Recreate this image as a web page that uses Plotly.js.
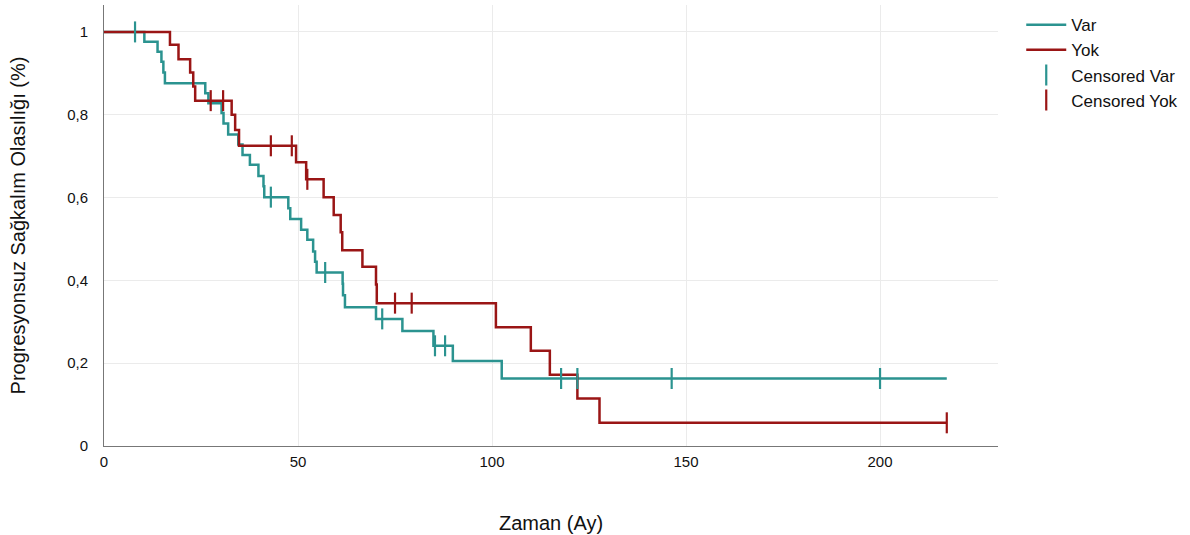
<!DOCTYPE html>
<html>
<head>
<meta charset="utf-8">
<script src="https://cdn.plot.ly/plotly-3.0.1.min.js"></script>
<style>html,body{margin:0;padding:0;background:#fff;}#chart{width:1190px;height:535px;}</style>
</head>
<body>
<div id="chart"></div>
<script>
// Kaplan–Meier step data (time in months, survival probability)
const varTimes = [0, 10.4, 13.8, 14.8, 15.3, 15.7, 26.1, 26.9, 30.3, 30.8, 32.0, 34.6, 35.7, 37.6, 39.8, 41.1, 41.3, 47.5, 48.0, 50.8, 52.4, 53.9, 54.4, 54.8, 61.5, 61.6, 62.1, 70.1, 76.9, 84.9, 89.9, 102.5, 217.2];
const varSurv  = [1, 0.976, 0.952, 0.928, 0.902, 0.876, 0.852, 0.828, 0.804, 0.779, 0.752, 0.728, 0.703, 0.679, 0.652, 0.627, 0.601, 0.574, 0.548, 0.522, 0.498, 0.470, 0.445, 0.419, 0.392, 0.364, 0.335, 0.307, 0.278, 0.242, 0.205, 0.163, 0.163];
const varCensor = [8.0, 43.0, 57.0, 71.7, 85.3, 87.9, 117.8, 122.0, 146.3, 200.0];

const yokTimes = [0, 17.0, 19.2, 22.2, 23.0, 23.5, 32.9, 33.8, 34.8, 49.5, 52.1, 56.6, 59.2, 61.0, 61.4, 66.6, 70.1, 70.3, 101.0, 110.0, 114.9, 122.0, 127.7, 217.2];
const yokSurv  = [1, 0.969, 0.934, 0.902, 0.868, 0.834, 0.800, 0.763, 0.725, 0.685, 0.644, 0.601, 0.558, 0.516, 0.473, 0.433, 0.390, 0.345, 0.287, 0.230, 0.172, 0.115, 0.056, 0.056];
const yokCensor = [27.5, 30.7, 43.0, 48.4, 52.4, 75.0, 79.3, 217.2];

const xTicks = [0, 50, 100, 150, 200];
const yTicks = [0, 0.2, 0.4, 0.6, 0.8, 1];
const yTickText = ['0', '0,2', '0,4', '0,6', '0,8', '1'];

const tealColor = '#2b9390';
const redColor = '#9a1515';

function survAt(times, surv, t) {
  let s = surv[0];
  for (let i = 0; i < times.length; i++) {
    if (times[i] <= t) s = surv[i]; else break;
  }
  return s;
}

const traces = [
  {x: varTimes, y: varSurv, mode: 'lines', name: 'Var', line: {shape: 'hv', color: tealColor, width: 2.5}},
  {x: yokTimes, y: yokSurv, mode: 'lines', name: 'Yok', line: {shape: 'hv', color: redColor, width: 2.5}},
  {x: varCensor, y: varCensor.map(t => survAt(varTimes, varSurv, t)), mode: 'markers', name: 'Censored Var',
   marker: {symbol: 'line-ns-open', size: 15, color: tealColor, line: {color: tealColor, width: 2.2}}},
  {x: yokCensor, y: yokCensor.map(t => survAt(yokTimes, yokSurv, t)), mode: 'markers', name: 'Censored Yok',
   marker: {symbol: 'line-ns-open', size: 15, color: redColor, line: {color: redColor, width: 2.2}}}
];

const layout = {
  width: 1190, height: 535,
  margin: {l: 104, r: 192, t: 5, b: 89},
  paper_bgcolor: '#fff', plot_bgcolor: '#fff',
  font: {family: 'Liberation Sans, Arial, sans-serif', size: 14, color: '#111'},
  showlegend: true,
  legend: {x: 1.026, y: 0.995, xanchor: 'left', yanchor: 'top', font: {size: 17, color: '#111'}, tracegroupgap: 0, itemwidth: 40},
  xaxis: {
    range: [0, 230.4], tickvals: xTicks, ticktext: xTicks.map(String),
    showgrid: true, gridcolor: '#ebebeb', gridwidth: 1, zeroline: false,
    showline: true, linecolor: '#777', linewidth: 1, ticks: '',
    tickfont: {size: 15, color: '#111'}, ticklabelstandoff: 2,
    title: {text: 'Zaman (Ay)', font: {size: 20, color: '#111'}, standoff: 46}
  },
  yaxis: {
    range: [0, 1.065], tickvals: yTicks, ticktext: yTickText,
    showgrid: true, gridcolor: '#ebebeb', gridwidth: 1, zeroline: false,
    showline: true, linecolor: '#777', linewidth: 1, ticks: '',
    tickfont: {size: 15, color: '#111'}, ticklabelstandoff: 12,
    title: {text: 'Progresyonsuz Sağkalım Olasılığı (%)', font: {size: 20, color: '#111'}, standoff: 36}
  }
};

Plotly.newPlot('chart', traces, layout, {displayModeBar: false, responsive: false});
</script>
</body>
</html>
